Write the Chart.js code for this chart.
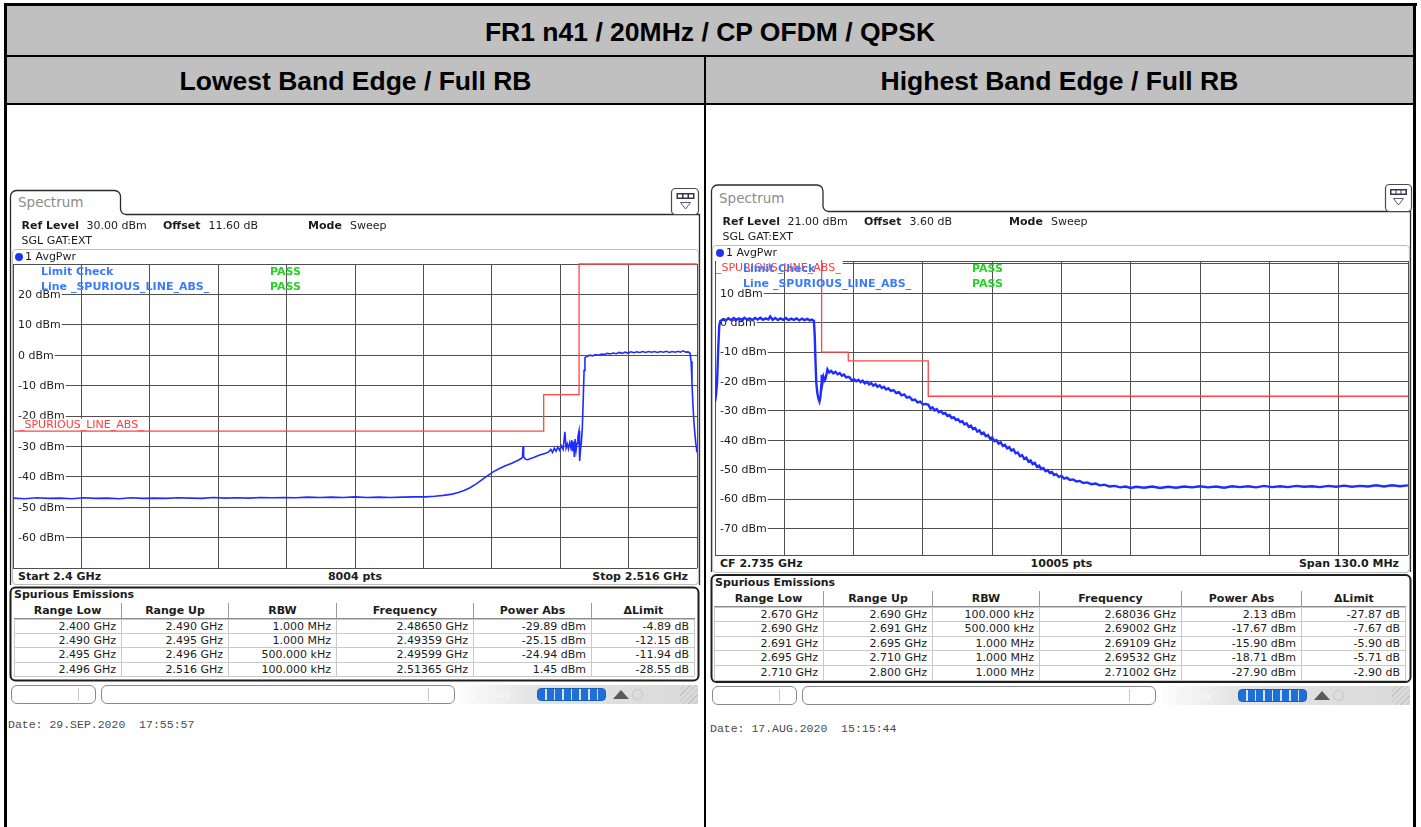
<!DOCTYPE html>
<html><head><meta charset="utf-8">
<script src="https://cdn.jsdelivr.net/npm/chart.js@4.4.1/dist/chart.umd.min.js"></script>
<style>
html,body{margin:0;padding:0;background:#fff;}
body{width:1421px;height:827px;overflow:hidden;position:relative;}
.b{position:absolute;background:#000;}
.g{position:absolute;background:#c0c0c0;}
.h{position:absolute;font:bold 26.5px "Liberation Sans",Arial,sans-serif;color:#000;text-align:center;line-height:30px;white-space:nowrap;}
.t{position:absolute;font:11px "DejaVu Sans",sans-serif;color:#1c1c1c;line-height:16px;white-space:pre;}
canvas{position:absolute;}
svg{position:absolute;left:0;top:0;}
.d{position:absolute;box-sizing:border-box;}
</style></head><body>
<div class="g" style="left:7px;top:6px;width:1406px;height:49px"></div>
<div class="g" style="left:7px;top:57px;width:1406px;height:46px"></div>
<div class="b" style="left:4px;top:3px;width:1413px;height:3px"></div>
<div class="b" style="left:4px;top:3px;width:3px;height:824px"></div>
<div class="b" style="left:1413px;top:3px;width:3px;height:824px"></div>
<div class="b" style="left:7px;top:55px;width:1406px;height:2px"></div>
<div class="b" style="left:7px;top:103px;width:1406px;height:2px"></div>
<div class="b" style="left:704px;top:57px;width:2px;height:770px"></div>
<div class="h" style="left:7px;width:1406px;top:17px">FR1 n41 / 20MHz / CP OFDM / QPSK</div>
<div class="h" style="left:7px;width:697px;top:66px">Lowest Band Edge / Full RB</div>
<div class="h" style="left:706px;width:707px;top:66px">Highest Band Edge / Full RB</div>

<svg width="1421" height="827">
  <path d="M10.5 585 V196.5 A6 6 0 0 1 16.5 190.5 H114.5 A6 6 0 0 1 120.5 196.5 V209 A5.5 5.5 0 0 0 126 214.5 H699.5 V585" fill="none" stroke="#2b2b2b" stroke-width="1.3"/>
  <rect x="12.5" y="249.5" width="686" height="335" rx="4" fill="none" stroke="#bcbcbc" stroke-width="1.2"/>
  <rect x="671.5" y="188.5" width="27" height="26" rx="4" fill="#fff" stroke="#4a4a4a" stroke-width="1.2"/>
  <rect x="676.5" y="193" width="18" height="6" fill="#34344a"/>
  <rect x="678" y="194.5" width="4" height="3" fill="#fff"/><rect x="683.5" y="194.5" width="4" height="3" fill="#fff"/><rect x="689" y="194.5" width="4" height="3" fill="#fff"/>
  <path d="M680.5 202.5 H690.5 L685.5 209 Z" fill="none" stroke="#5a5a6a"/>
  <rect x="10.5" y="587.5" width="688" height="93" rx="5" fill="#fff" stroke="#1e1e1e" stroke-width="2"/>
  <path d="M711.5 572 V191 A6 6 0 0 1 717.5 185 H817 A6 6 0 0 1 823 191 V206 A5.5 5.5 0 0 0 828.5 211.5 H1410.5 V572" fill="none" stroke="#2b2b2b" stroke-width="1.3"/>
  <rect x="712.5" y="245.5" width="697" height="327" rx="4" fill="none" stroke="#bcbcbc" stroke-width="1.2"/>
  <rect x="1385.5" y="184.5" width="26" height="27" rx="4" fill="#fff" stroke="#4a4a4a" stroke-width="1.2"/>
  <rect x="1390" y="189" width="17" height="6" fill="#34344a"/>
  <rect x="1391.5" y="190.5" width="4" height="3" fill="#fff"/><rect x="1396.5" y="190.5" width="4" height="3" fill="#fff"/><rect x="1401.5" y="190.5" width="4" height="3" fill="#fff"/>
  <path d="M1393.5 198.5 H1403.5 L1398.5 205 Z" fill="none" stroke="#5a5a6a"/>
  <rect x="711.5" y="575" width="699" height="107" rx="5" fill="#fff" stroke="#1e1e1e" stroke-width="2"/>
</svg>

<canvas id="cL" width="686" height="306" style="left:12px;top:263px"></canvas>
<canvas id="cR" width="695" height="296" style="left:714px;top:260px"></canvas>

<script>
// ===================== DATA =====================
const leftFreqMHz = [2400,2402,2404,2406,2408,2410,2412,2414,2416,2418,2420,2422,2424,2426,2428,2430,2432,2434,2436,2438,2440,2442,2444,2446,2448,2450,2452,2454,2456,2458,2460,2462,2464,2466,2468,2470,2471.5,2473,2474.5,2475.5,2476.5,2477.5,2478.5,2479.5,2480.5,2481.5,2482.5,2483.5,2484.5,2485.5,2486.2,2486.4,2486.5,2486.6,2486.9,2487.3,2487.8,2488.4,2489.0,2489.6,2490.2,2490.8,2491.2,2491.5,2491.8,2492.1,2492.4,2492.7,2493.0,2493.3,2493.59,2493.8,2494.0,2494.2,2494.4,2494.6,2494.75,2494.9,2495.05,2495.2,2495.35,2495.5,2495.65,2495.8,2495.99,2496.1,2496.25,2496.4,2496.55,2496.7,2496.85,2497.0,2497.3,2497.8,2498.3,2498.8,2499.3,2499.8,2500.3,2500.8,2501.3,2501.8,2502.3,2502.8,2503.3,2503.8,2504.3,2504.8,2505.3,2505.8,2506.3,2506.8,2507.3,2507.8,2508.3,2508.8,2509.3,2509.8,2510.3,2510.8,2511.3,2511.8,2512.3,2512.8,2513.2,2513.65,2514.1,2514.5,2514.8,2515.0,2515.15,2515.3,2515.45,2515.6,2515.8,2516.0];
const leftPowerDbm = [-47.0,-47.2,-46.9,-47.1,-47.0,-47.2,-46.9,-47.1,-47.0,-47.2,-46.9,-47.1,-47.0,-47.1,-46.9,-47.0,-47.1,-46.8,-47.0,-46.9,-47.0,-46.8,-46.9,-46.8,-46.9,-46.7,-46.8,-46.7,-46.8,-46.6,-46.8,-46.7,-46.8,-46.7,-46.6,-46.6,-46.4,-46.1,-45.7,-45.2,-44.5,-43.6,-42.4,-41.0,-39.6,-38.3,-37.3,-36.4,-35.6,-34.7,-34.0,-33.6,-29.9,-33.4,-34.2,-34.4,-34.0,-33.6,-33.1,-32.7,-32.3,-31.9,-31.0,-32.0,-30.6,-31.6,-30.2,-31.3,-29.8,-31.0,-25.2,-30.6,-29.2,-30.8,-28.8,-30.4,-27.9,-31.6,-28.4,-33.5,-27.6,-31.2,-29.0,-26.8,-24.9,-34.8,-31.0,-28.5,-24.0,-15.0,-5.0,-0.8,-0.4,0.0,-0.2,0.2,0.0,0.4,0.2,0.6,0.4,0.7,0.5,0.9,0.6,1.0,0.7,1.1,0.8,1.1,0.9,1.2,0.9,1.2,1.0,1.2,0.9,1.2,1.0,1.3,0.9,1.2,1.0,1.3,1.0,1.45,1.0,1.1,0.7,-2.0,-9.0,-16.0,-21.0,-25.0,-29.0,-32.0];
const leftLimitFreqMHz = [2400, 2490, 2496, 2516];
const leftLimitDbm = [-25, -13, 30, 30];
const leftYGridDbm = [30, 20, 10, 0, -10, -20, -30, -40, -50, -60, -70];
const leftYLabelDbm = [20, 10, 0, -10, -20, -30, -40, -50, -60];

const rightFreqMHz = [2670.0,2670.2,2670.4,2670.6,2670.8,2671.0,2671.5,2672.0,2672.5,2673.0,2673.5,2674.0,2674.5,2675.0,2675.5,2676.0,2676.5,2677.0,2677.5,2678.0,2678.5,2679.0,2679.5,2680.0,2680.36,2680.8,2681.3,2681.8,2682.3,2682.8,2683.3,2683.8,2684.3,2684.8,2685.3,2685.8,2686.3,2686.8,2687.3,2687.8,2688.2,2688.55,2688.7,2688.85,2689.0,2689.2,2689.4,2689.6,2689.8,2689.95,2690.02,2690.15,2690.35,2690.55,2690.75,2690.95,2691.09,2691.4,2691.8,2692.2,2692.6,2693.0,2693.4,2693.8,2694.2,2694.6,2695.0,2695.32,2695.7,2696.1,2696.5,2696.9,2697.3,2697.7,2698.1,2698.5,2698.9,2699.3,2699.7,2700.1,2700.5,2700.9,2701.3,2701.7,2702.1,2702.5,2703.0,2703.5,2704.0,2704.5,2705.0,2705.5,2706.0,2706.5,2707.0,2707.5,2708.0,2708.5,2709.0,2709.5,2710.02,2710.4,2710.8,2711.2,2711.6,2712.0,2712.4,2712.8,2713.2,2713.6,2714.0,2714.4,2714.8,2715.2,2715.6,2716.0,2716.4,2716.8,2717.2,2717.6,2718.0,2718.4,2718.8,2719.2,2719.6,2720.0,2720.4,2720.8,2721.2,2721.6,2722.0,2722.4,2722.8,2723.2,2723.6,2724.0,2724.4,2724.8,2725.2,2725.6,2726.0,2726.4,2726.8,2727.2,2727.6,2728.0,2728.4,2728.8,2729.2,2729.6,2730.0,2730.4,2730.8,2731.2,2731.6,2732.0,2732.4,2732.8,2733.2,2733.6,2734.0,2734.5,2735.0,2735.5,2736.0,2736.6,2737.2,2737.8,2738.4,2739.1,2739.8,2740.6,2741.4,2742.2,2743.0,2744.0,2745.0,2746.0,2747.0,2748.0,2749.0,2750.5,2752.0,2753.5,2755.0,2756.5,2758.0,2759.5,2761.0,2762.5,2764.0,2765.5,2767.0,2768.5,2770.0,2771.5,2773.0,2774.5,2776.0,2777.5,2779.0,2780.5,2782.0,2783.5,2785.0,2786.5,2788.0,2789.5,2791.0,2792.5,2794.0,2795.5,2797.0,2798.5,2800.0];
const rightPowerDbm = [-27.0,-24.5,-20.0,-9.0,-1.0,0.6,1.1,0.7,1.5,0.9,1.6,1.0,1.5,0.9,1.7,1.1,1.5,0.9,1.6,1.1,1.7,1.0,1.5,1.1,2.13,1.0,1.6,0.9,1.5,1.0,1.6,0.9,1.4,1.0,1.5,0.8,1.4,0.9,1.3,0.8,1.1,0.6,-4.0,-13.0,-20.5,-24.0,-25.8,-26.8,-25.0,-21.0,-17.7,-20.5,-18.4,-19.6,-19.0,-17.2,-15.9,-16.9,-16.4,-17.2,-16.7,-17.5,-17.1,-18.0,-17.6,-18.6,-18.4,-18.71,-19.7,-19.2,-19.9,-19.4,-20.2,-19.7,-20.6,-20.1,-21.0,-20.5,-21.4,-20.9,-21.8,-21.3,-22.2,-21.8,-22.7,-22.3,-23.2,-22.9,-23.9,-23.6,-24.7,-24.4,-25.5,-25.2,-26.3,-26.1,-27.1,-26.8,-27.8,-27.6,-27.9,-29.2,-28.8,-29.8,-29.4,-30.4,-30.0,-31.0,-30.7,-31.7,-31.4,-32.4,-32.1,-33.1,-32.8,-33.8,-33.5,-34.6,-34.2,-35.4,-35.0,-36.2,-35.8,-37.0,-36.6,-37.8,-37.4,-38.6,-38.2,-39.4,-39.0,-40.3,-39.9,-41.1,-40.7,-41.9,-41.5,-42.7,-42.3,-43.5,-43.1,-44.4,-44.1,-45.4,-45.0,-46.3,-45.9,-47.2,-46.8,-48.1,-47.7,-49.0,-48.6,-49.8,-49.4,-50.5,-50.1,-51.1,-50.8,-51.8,-51.5,-52.4,-52.1,-53.0,-52.7,-53.5,-53.3,-54.0,-53.8,-54.5,-54.3,-54.9,-54.7,-55.3,-55.1,-55.7,-55.5,-56.0,-55.7,-56.2,-55.8,-56.1,-55.7,-56.2,-55.8,-56.1,-55.7,-56.0,-55.6,-56.0,-55.7,-56.1,-55.6,-55.9,-55.6,-56.0,-55.5,-55.9,-55.6,-55.9,-55.5,-55.8,-55.6,-55.9,-55.5,-55.8,-55.4,-55.8,-55.5,-55.7,-55.3,-55.7,-55.3,-55.6,-55.3];
const rightLimitFreqMHz = [2670, 2690, 2695, 2710, 2800];
const rightLimitDbm = [30, -10, -13, -25, -25];
const rightYGridDbm = [21, 20, 10, 0, -10, -20, -30, -40, -50, -60, -70, -79];
const rightYLabelDbm = [10, 0, -10, -20, -30, -40, -50, -60, -70];

const spurHeaders = ['Range Low', 'Range Up', 'RBW', 'Frequency', 'Power Abs', '\u0394Limit'];
const leftSpurRows = [
  ['2.400 GHz', '2.490 GHz', '1.000 MHz', '2.48650 GHz', '-29.89 dBm', '-4.89 dB'],
  ['2.490 GHz', '2.495 GHz', '1.000 MHz', '2.49359 GHz', '-25.15 dBm', '-12.15 dB'],
  ['2.495 GHz', '2.496 GHz', '500.000 kHz', '2.49599 GHz', '-24.94 dBm', '-11.94 dB'],
  ['2.496 GHz', '2.516 GHz', '100.000 kHz', '2.51365 GHz', '1.45 dBm', '-28.55 dB']];
const rightSpurRows = [
  ['2.670 GHz', '2.690 GHz', '100.000 kHz', '2.68036 GHz', '2.13 dBm', '-27.87 dB'],
  ['2.690 GHz', '2.691 GHz', '500.000 kHz', '2.69002 GHz', '-17.67 dBm', '-7.67 dB'],
  ['2.691 GHz', '2.695 GHz', '1.000 MHz', '2.69109 GHz', '-15.90 dBm', '-5.90 dB'],
  ['2.695 GHz', '2.710 GHz', '1.000 MHz', '2.69532 GHz', '-18.71 dBm', '-5.71 dB'],
  ['2.710 GHz', '2.800 GHz', '1.000 MHz', '2.71002 GHz', '-27.90 dBm', '-2.90 dB']];

const leftHeaderInfo = ['30.00 dBm', '11.60 dB', 'Start 2.4 GHz', '8004 pts', 'Stop 2.516 GHz', 'Date: 29.SEP.2020  17:55:57'];
const rightHeaderInfo = ['21.00 dBm', '3.60 dB', 'CF 2.735 GHz', '10005 pts', 'Span 130.0 MHz', 'Date: 17.AUG.2020  15:15:44'];

// ===================== HELPERS =====================
function T(x, yc, s, o) {
  o = o || {};
  const d = document.createElement('div');
  d.className = 't';
  d.textContent = s;
  d.style.top = (yc - 8) + 'px';
  if (o.align === 'right') { d.style.left = (x - 300) + 'px'; d.style.width = '300px'; d.style.textAlign = 'right'; }
  else if (o.align === 'center') { d.style.left = (x - 150) + 'px'; d.style.width = '300px'; d.style.textAlign = 'center'; }
  else d.style.left = x + 'px';
  if (o.bold) d.style.fontWeight = 'bold';
  if (o.size) d.style.fontSize = o.size + 'px';
  if (o.color) d.style.color = o.color;
  if (o.font) d.style.fontFamily = o.font;
  document.body.appendChild(d);
  return d;
}
function D(x, y, w, h, css) {
  const d = document.createElement('div');
  d.className = 'd';
  d.style.left = x + 'px'; d.style.top = y + 'px'; d.style.width = w + 'px'; d.style.height = h + 'px';
  Object.assign(d.style, css || {});
  document.body.appendChild(d);
  return d;
}
function panelText(x0, yRef, yTab, yAvg, yBar, plotL, plotR, info, dateX, dateY) {
  T(x0 + 8, yTab, 'Spectrum', {size: 13.5, color: '#8c8c8c'});
  T(x0 + 11.5, yRef, 'Ref Level', {bold: true});
  T(x0 + 76.5, yRef, info[0]);
  T(x0 + 153, yRef, 'Offset', {bold: true});
  T(x0 + 198.5, yRef, info[1]);
  T(x0 + 298, yRef, 'Mode', {bold: true});
  T(x0 + 340, yRef, 'Sweep');
  T(x0 + 11.5, yRef + 15, 'SGL GAT:EXT');
  D(x0 + 5, yAvg - 4, 8, 8, {borderRadius: '50%', background: '#1c35f0'});
  T(x0 + 15, yAvg, '1 AvgPwr');
  T(plotL + 5, yBar, info[2], {bold: true});
  T((plotL + plotR) / 2, yBar, info[3], {bold: true, align: 'center'});
  T(plotR - 9, yBar, info[4], {bold: true, align: 'right'});
  T(dateX, dateY, info[5], {font: '"Liberation Mono", monospace', size: 11.5, color: '#4a4a4a'});
}
function spurTable(x0, titleY, hdrTop, hdrH, rowTop, rowH, cols, rows) {
  T(x0 + 4, titleY, 'Spurious Emissions', {bold: true});
  for (let c = 0; c < 6; c++) {
    const w = cols[c + 1] - cols[c];
    const h = D(cols[c], hdrTop, w, hdrH, {borderBottom: '1px solid #8a8a8a', borderRight: c < 5 ? '1px solid #9a9a9a' : 'none', font: 'bold 11px "DejaVu Sans"', color: '#1c1c1c', textAlign: 'center', lineHeight: (hdrH - 1) + 'px', whiteSpace: 'pre'});
    h.textContent = spurHeaders[c];
    rows.forEach((r, ri) => {
      const cell = D(cols[c], rowTop + ri * rowH, w, rowH, {border: '1px solid #c9c9c9', borderTop: ri === 0 ? '1px solid #c9c9c9' : 'none', borderLeft: c === 0 ? '1px solid #c9c9c9' : 'none', font: '11px "DejaVu Sans"', color: '#1c1c1c', textAlign: 'right', paddingRight: '5px', lineHeight: (rowH - 1) + 'px', whiteSpace: 'pre'});
      cell.textContent = r[c];
    });
  }
}
function statusBar(x0, y0, x1) {
  D(x0 + 1, y0, 85, 19, {border: '1px solid #8a8a8a', borderRadius: '6px', background: '#fff'});
  D(x0 + 68, y0 + 3, 1, 13, {background: '#c8c8c8'});
  D(x0 + 91, y0, 354, 19, {border: '1px solid #8a8a8a', borderRadius: '6px', background: '#fff'});
  D(x0 + 418, y0 + 3, 1, 13, {background: '#c8c8c8'});
  D(x0 + 450, y0, x1 - x0 - 450, 19, {background: 'linear-gradient(90deg,#fdfdfd 0%,#e4e4e4 30%,#d9d9d9 100%)'});
  D(x1 - 18, y0, 18, 19, {background: 'repeating-linear-gradient(135deg,transparent 0 3px,#c2c2c2 3px 4px)'});
  T(x0 + 466, y0 + 9.5, 'Ready', {bold: true, size: 10, color: '#f4f4f4'});
  D(x0 + 527, y0 + 3, 69, 13, {borderRadius: '4px', background: 'repeating-linear-gradient(90deg,#1f6fd8 0 7px,#d5e3f8 7px 8.6px)', border: '1px solid #1a5fb8'});
  D(x0 + 603, y0 + 5, 8, 9, {background: '#5a5a5a', clipPath: 'polygon(100% 0,100% 100%,0 100%)'});
  D(x0 + 611, y0 + 5, 8, 9, {background: '#5a5a5a', clipPath: 'polygon(0 0,100% 100%,0 100%)'});
  D(x0 + 622, y0 + 4, 11, 11, {border: '1px solid #c4c4c4', borderRadius: '50%'});
}

// ===================== CHARTS =====================
function overlay(o) {
  return {
    id: 'ov' + o.name,
    beforeDatasetsDraw(chart) {
      const {ctx, chartArea: a, scales: {y}} = chart;
      ctx.save();
      ctx.font = '11px "DejaVu Sans"';
      ctx.textBaseline = 'middle';
      o.yLabels.forEach(v => {
        const py = y.getPixelForValue(v);
        const t = v + ' dBm';
        const w = ctx.measureText(t).width;
        ctx.fillStyle = '#fff';
        ctx.fillRect(a.left + 1, py - 6, w + 5, 12);
        ctx.fillStyle = '#1c1c1c';
        ctx.fillText(t, a.left + 5, py + 0.5);
      });
      const lt = '_SPURIOUS_LINE_ABS_';
      const lw = ctx.measureText(lt).width;
      const ly = y.getPixelForValue(o.limitLabelValue) + o.limitLabelDy;
      ctx.fillStyle = '#fff';
      ctx.fillRect(a.left + 1, o.limitBgTop(ly, a), lw + o.limitLabelDx + 1, o.limitBgH);
      ctx.fillStyle = '#ff3b3b';
      ctx.fillText(lt, a.left + o.limitLabelDx, ly);
      ctx.restore();
    },
    afterDatasetsDraw(chart) {
      const {ctx, chartArea: a} = chart;
      ctx.save();
      ctx.font = 'bold 11px "DejaVu Sans"';
      ctx.textBaseline = 'middle';
      ctx.fillStyle = '#3b7bff';
      ctx.fillText('Limit Check', a.left + 28, a.top + 7.7);
      ctx.fillText('Line _SPURIOUS_LINE_ABS_', a.left + 28, a.top + 23.4);
      ctx.fillStyle = '#27d127';
      ctx.fillText('PASS', a.left + 257, a.top + 7.7);
      ctx.fillText('PASS', a.left + 257, a.top + 23.4);
      ctx.restore();
    }
  };
}
function spectrum(id, o) {
  const xs = [];
  for (let i = 0; i <= 10; i++) xs.push(o.xMin + (o.xMax - o.xMin) * i / 10);
  return new Chart(document.getElementById(id), {
    type: 'line',
    data: {datasets: [
      {data: o.freq.map((f, i) => ({x: f, y: o.power[i]})), borderColor: '#1f2dff', borderWidth: o.traceWidth, pointRadius: 0, tension: 0, order: 1},
      {data: o.limFreq.map((f, i) => ({x: f, y: o.limPow[i]})), stepped: 'before', borderColor: '#ff4545', borderWidth: 1.3, pointRadius: 0, order: 2, clip: {left: 0, top: 2, right: 0, bottom: 0}}
    ]},
    options: {
      responsive: false, animation: false, devicePixelRatio: 1,
      layout: {padding: 1},
      plugins: {legend: {display: false}, tooltip: {enabled: false}},
      scales: {
        x: {type: 'linear', min: o.xMin, max: o.xMax, afterBuildTicks: s => { s.ticks = xs.map(v => ({value: v})); },
            ticks: {display: false}, grid: {color: '#505050', lineWidth: 1, drawTicks: false}, border: {display: false}},
        y: {type: 'linear', min: o.yMin, max: o.yMax, afterBuildTicks: s => { s.ticks = o.yGrid.map(v => ({value: v})); },
            ticks: {display: false}, grid: {color: '#505050', lineWidth: 1, drawTicks: false}, border: {display: false}}
      }
    },
    plugins: [overlay(o)]
  });
}

spectrum('cL', {
  name: 'L', freq: leftFreqMHz, power: leftPowerDbm, limFreq: leftLimitFreqMHz, limPow: leftLimitDbm,
  xMin: 2400, xMax: 2516, yMin: -70, yMax: 30, yGrid: leftYGridDbm, yLabels: leftYLabelDbm, traceWidth: 1.6,
  limitLabelValue: -25, limitLabelDy: -6.5, limitLabelDx: 6, limitBgTop: (ly, a) => ly - 6, limitBgH: 12.5
});
spectrum('cR', {
  name: 'R', freq: rightFreqMHz, power: rightPowerDbm, limFreq: rightLimitFreqMHz, limPow: rightLimitDbm,
  xMin: 2670, xMax: 2800, yMin: -79, yMax: 21, yGrid: rightYGridDbm, yLabels: rightYLabelDbm, traceWidth: 2.4,
  limitLabelValue: 21, limitLabelDy: 7, limitLabelDx: 1, limitBgTop: (ly, a) => a.top - 1, limitBgH: 5
});

// ===================== TEXT / FRAMES =====================
panelText(10, 225.7, 202, 256.7, 577, 13, 697, leftHeaderInfo, 8, 725);
panelText(711, 222.3, 198, 252.7, 564.3, 715, 1408, rightHeaderInfo, 710, 729);
spurTable(10, 595, 603, 16, 619, 14.5, [14, 122, 229, 337, 474, 592, 695], leftSpurRows);
spurTable(711, 582.5, 591, 16, 607, 14.75, [714, 824, 933, 1040, 1182, 1302, 1406], rightSpurRows);
statusBar(10, 685, 698);
statusBar(711, 686, 1410);
</script>
</body></html>
